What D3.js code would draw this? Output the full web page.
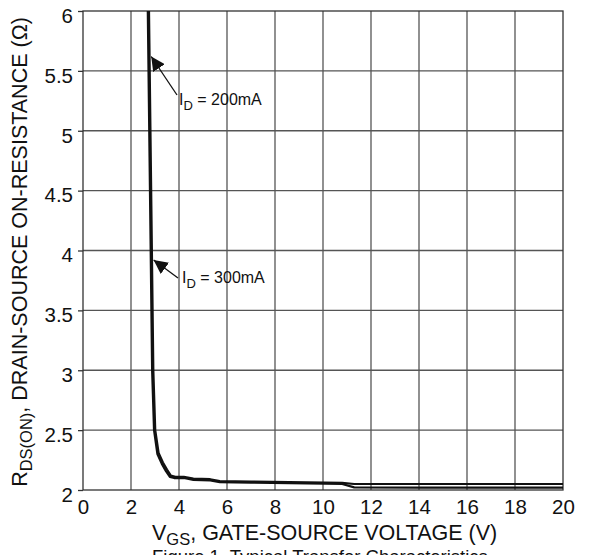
<!DOCTYPE html>
<html>
<head>
<meta charset="utf-8">
<script src="https://cdn.jsdelivr.net/npm/d3@7"></script>
<style>
  html, body { margin: 0; padding: 0; background: #fff; }
  svg { display: block; font-family: "Liberation Sans", Arial, Helvetica, sans-serif; }
</style>
</head>
<body>
<svg id="chart" width="590" height="555"></svg>
<script>
// Gate voltage (V) and on-resistance (ohm) samples for each drain current
const vgs200 = [2.70, 2.73, 2.76, 2.79, 2.82, 2.85, 2.88, 2.96, 3.10, 3.28, 3.45, 3.62, 3.80, 4.20, 4.60, 5.30, 5.70, 7.00, 8.60, 10.8, 11.3, 14.0, 20.0];
const rds200 = [6.00, 5.50, 5.00, 4.50, 4.00, 3.50, 3.00, 2.50, 2.30, 2.22, 2.16, 2.11, 2.10, 2.10, 2.085, 2.08, 2.066, 2.062, 2.058, 2.05, 2.022, 2.020, 2.020];
const vgs300 = [2.75, 2.78, 2.81, 2.84, 2.87, 2.90, 2.93, 3.01, 3.15, 3.33, 3.50, 3.66, 3.85, 4.20, 4.60, 5.30, 5.70, 7.00, 8.60, 10.8, 11.3, 14.0, 20.0];
const rds300 = [6.00, 5.50, 5.00, 4.50, 4.00, 3.50, 3.00, 2.50, 2.31, 2.23, 2.17, 2.12, 2.11, 2.11, 2.095, 2.09, 2.075, 2.07, 2.066, 2.06, 2.05, 2.05, 2.05];

const xTicks = [0, 2, 4, 6, 8, 10, 12, 14, 16, 18, 20];
const yTicks = [2, 2.5, 3, 3.5, 4, 4.5, 5, 5.5, 6];

const svg = d3.select("#chart");
const plotL = 83, plotR = 563, plotT = 11, plotB = 490;

const x = d3.scaleLinear().domain([0, 20]).range([plotL, plotR]);
const y = d3.scaleLinear().domain([2, 6]).range([plotB, plotT]);

// grid
const grid = svg.append("g").attr("stroke", "#555").attr("stroke-width", 1.3);
grid.selectAll("line.v").data(xTicks.slice(1, -1)).join("line")
  .attr("x1", d => x(d)).attr("x2", d => x(d)).attr("y1", plotT).attr("y2", plotB);
grid.selectAll("line.h").data(yTicks.slice(1, -1)).join("line")
  .attr("x1", plotL).attr("x2", plotR).attr("y1", d => y(d)).attr("y2", d => y(d));

// frame
svg.append("rect").attr("x", plotL).attr("y", plotT)
  .attr("width", plotR - plotL).attr("height", plotB - plotT)
  .attr("fill", "none").attr("stroke", "#333").attr("stroke-width", 1.3);

// axes
const xAxis = svg.append("g").attr("transform", `translate(0,${plotB})`)
  .call(d3.axisBottom(x).tickValues(xTicks).tickSize(0).tickPadding(10).tickFormat(d3.format("d")));
const yAxis = svg.append("g").attr("transform", `translate(${plotL},0)`)
  .call(d3.axisLeft(y).tickValues(yTicks).tickSize(5).tickPadding(5).tickFormat(d => String(d)));
[xAxis, yAxis].forEach(g => {
  g.select(".domain").remove();
  g.selectAll("text").attr("font-size", 20.5).attr("fill", "#111")
    .attr("font-family", "'Liberation Sans', Arial, sans-serif");
  g.selectAll("line").attr("stroke", "#333").attr("stroke-width", 1.3);
});
xAxis.selectAll("text").attr("dy", "0.68em");
yAxis.selectAll("text").attr("dy", "0.55em");

// curves
const line = d3.line().x(d => x(d[0])).y(d => y(d[1])).curve(d3.curveLinear);
const series = [
  d3.zip(vgs200, rds200),
  d3.zip(vgs300, rds300)
];
svg.append("g").selectAll("path").data(series).join("path")
  .attr("d", line).attr("fill", "none")
  .attr("stroke", "#111").attr("stroke-width", 2.2)
  .attr("stroke-linejoin", "round");

// annotations
const defs = svg.append("defs");
defs.append("marker").attr("id", "head")
  .attr("viewBox", "0 0 10 10").attr("refX", 10).attr("refY", 5)
  .attr("markerWidth", 14).attr("markerHeight", 14).attr("markerUnits", "userSpaceOnUse")
  .attr("orient", "auto")
  .append("path").attr("d", "M0,0 L10,5 L0,10 z").attr("fill", "#111");

const notes = [
  { label: "200mA", v: 2.78, r: 5.62, tx: 179, ty: 105, lx: 177, ly: 95 },
  { label: "300mA", v: 2.88, r: 3.92, tx: 182, ty: 283, lx: 178, ly: 278 }
];
notes.forEach(n => {
  svg.append("line").attr("x1", n.lx).attr("y1", n.ly)
    .attr("x2", x(n.v) + 1.5).attr("y2", y(n.r))
    .attr("stroke", "#111").attr("stroke-width", 1.3)
    .attr("marker-end", "url(#head)");
  const t = svg.append("text").attr("x", n.tx).attr("y", n.ty)
    .attr("font-size", 16).attr("fill", "#111");
  t.append("tspan").text("I");
  t.append("tspan").attr("dy", 5).attr("font-size", 13).text("D");
  t.append("tspan").attr("dy", -5).text(" = " + n.label);
});

// axis titles
const xt = svg.append("text").attr("x", 152).attr("y", 540)
  .attr("font-size", 21.5).attr("fill", "#111");
xt.append("tspan").text("V");
xt.append("tspan").attr("dy", 5).attr("font-size", 16.5).text("GS");
xt.append("tspan").attr("dy", -5).text(", GATE-SOURCE VOLTAGE (V)");

const yt = svg.append("text").attr("transform", "translate(27,252) rotate(-90)")
  .attr("text-anchor", "middle").attr("font-size", 21.5).attr("fill", "#111");
yt.append("tspan").text("R");
yt.append("tspan").attr("dy", 5).attr("font-size", 16.5).text("DS(ON)");
yt.append("tspan").attr("dy", -5).text(", DRAIN-SOURCE ON-RESISTANCE (Ω)");

// figure caption
svg.append("text").attr("x", 152).attr("y", 563)
  .attr("font-size", 18.5).attr("fill", "#111")
  .text("Figure 1. Typical Transfer Characteristics");
</script>
</body>
</html>
